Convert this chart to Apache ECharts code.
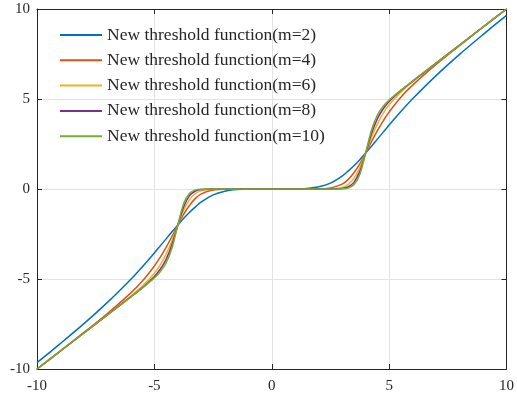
<!DOCTYPE html>
<html>
<head>
<meta charset="utf-8">
<script src="https://cdn.jsdelivr.net/npm/echarts@6/dist/echarts.min.js"></script>
<style>
  html, body { margin: 0; padding: 0; background: #fff; }
  #chart { width: 517px; height: 403px; }
</style>
</head>
<body>
<div id="chart"></div>
<script>
// x positions shared by every curve (denser around the thresholds)
const xs = [-10, -9, -8, -7, -6, -5.5, -5, -4.75, -4.5, -4.25, -4, -3.75, -3.5, -3.25, -3, -2.5, -2, -1.5, -1, 0,
  1, 1.5, 2, 2.5, 3, 3.25, 3.5, 3.75, 4, 4.25, 4.5, 4.75, 5, 5.5, 6, 7, 8, 9, 10];

const m2 = [-9.65, -8.58, -7.48, -6.3, -5.01, -4.30, -3.55, -3.16, -2.77, -2.38, -2.0, -1.63, -1.29, -0.99, -0.72, -0.33, -0.12, -0.03, 0, 0,
  0, 0.03, 0.12, 0.33, 0.72, 0.99, 1.29, 1.63, 2.0, 2.38, 2.77, 3.16, 3.55, 4.30, 5.01, 6.3, 7.48, 8.58, 9.65];
const m4 = [-10.0, -8.99, -7.97, -6.92, -5.77, -5.10, -4.28, -3.79, -3.24, -2.63, -2.0, -1.40, -0.90, -0.52, -0.27, -0.06, -0.01, 0, 0, 0,
  0, 0, 0.01, 0.06, 0.27, 0.52, 0.90, 1.40, 2.0, 2.63, 3.24, 3.79, 4.28, 5.10, 5.77, 6.92, 7.97, 8.99, 10.0];
const m6 = [-10.0, -9.0, -8.0, -6.99, -5.95, -5.38, -4.68, -4.21, -3.62, -2.87, -2.0, -1.18, -0.59, -0.25, -0.09, -0.01, 0, 0, 0, 0,
  0, 0, 0, 0.01, 0.09, 0.25, 0.59, 1.18, 2.0, 2.87, 3.62, 4.21, 4.68, 5.38, 5.95, 6.99, 8.0, 9.0, 10.0];
const m8 = [-10.0, -9.0, -8.0, -7.0, -5.99, -5.47, -4.86, -4.46, -3.91, -3.08, -2.0, -0.98, -0.37, -0.11, -0.03, 0, 0, 0, 0, 0,
  0, 0, 0, 0, 0.03, 0.11, 0.37, 0.98, 2.0, 3.08, 3.91, 4.46, 4.86, 5.47, 5.99, 7.0, 8.0, 9.0, 10.0];
const m10 = [-10.0, -9.0, -8.0, -7.0, -6.0, -5.49, -4.94, -4.60, -4.11, -3.28, -2.0, -0.81, -0.23, -0.05, -0.01, 0, 0, 0, 0, 0,
  0, 0, 0, 0, 0.01, 0.05, 0.23, 0.81, 2.0, 3.28, 4.11, 4.60, 4.94, 5.49, 6.0, 7.0, 8.0, 9.0, 10.0];

const names = [
  'New threshold function(m=2)',
  'New threshold function(m=4)',
  'New threshold function(m=6)',
  'New threshold function(m=8)',
  'New threshold function(m=10)',
];
const colors = ['#0072BD', '#D95319', '#EDB120', '#7E2F8E', '#77AC30'];
const curves = [m2, m4, m6, m8, m10];

const FONT = 'Liberation Serif';
const INK = '#262626';

const chart = echarts.init(document.getElementById('chart'), null, { renderer: 'canvas' });

const baseAxis = {
  type: 'value',
  min: -10,
  max: 10,
  interval: 5,
};

// box outline: mirror axes on top and right carry the inward ticks
const boxLine = { show: true, onZero: false, lineStyle: { color: INK, width: 1 } };
const inTick = { show: true, inside: true, length: 5, lineStyle: { color: INK } };
const gridLine = { show: true, lineStyle: { color: '#e3e3e3', width: 1 } };

chart.setOption({
  animation: false,
  grid: { left: 37, right: 8, top: 9, bottom: 34, show: false },
  legend: {
    orient: 'vertical',
    left: 59,
    top: 26,
    padding: 0,
    itemWidth: 42,
    itemHeight: 14,
    itemGap: 7.3,
    itemStyle: { opacity: 0 },
    textStyle: { fontFamily: FONT, fontSize: 17.5, color: INK },
    data: names,
  },
  xAxis: [
    {
      ...baseAxis,
      position: 'bottom',
      axisLine: boxLine,
      axisTick: inTick,
      axisLabel: { fontFamily: FONT, fontSize: 15, color: INK, margin: 10 },
      splitLine: gridLine,
    },
    {
      ...baseAxis,
      position: 'top',
      axisLine: boxLine,
      axisTick: inTick,
      axisLabel: { show: false },
      splitLine: { show: false },
    },
  ],
  yAxis: [
    {
      ...baseAxis,
      position: 'left',
      axisLine: boxLine,
      axisTick: inTick,
      axisLabel: { fontFamily: FONT, fontSize: 15, color: INK, margin: 7 },
      splitLine: gridLine,
    },
    {
      ...baseAxis,
      position: 'right',
      axisLine: boxLine,
      axisTick: inTick,
      axisLabel: { show: false },
      splitLine: { show: false },
    },
  ],
  series: curves.map((ys, i) => ({
    name: names[i],
    type: 'line',
    xAxisIndex: 0,
    yAxisIndex: 0,
    data: xs.map((x, j) => [x, ys[j]]),
    smooth: 0.3,
    symbol: 'none',
    color: colors[i],
    lineStyle: { width: 1.5, color: colors[i] },
  })),
});
</script>
</body>
</html>
